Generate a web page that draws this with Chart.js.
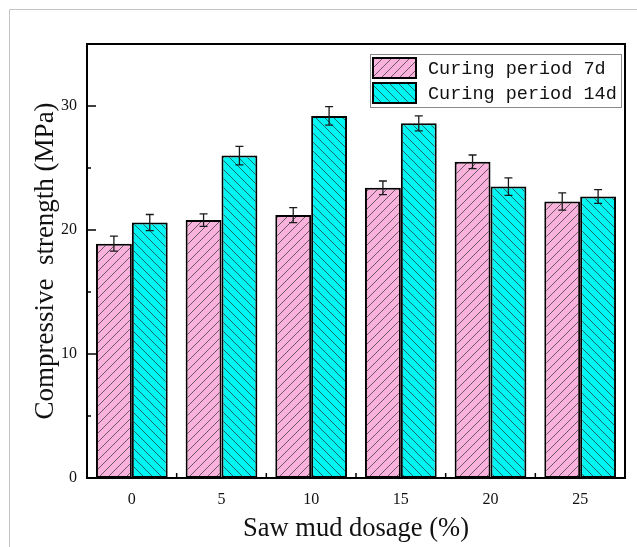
<!DOCTYPE html>
<html lang="en">
<head>
  <meta charset="utf-8" />
  <title>Compressive strength</title>
  <script src="https://cdn.jsdelivr.net/npm/chart.js@4.4.1/dist/chart.umd.min.js"></script>
  <style>
    html, body { margin: 0; padding: 0; background: #fff; }
    #wrap { width: 637px; height: 547px; }
  </style>
</head>
<body>
  <div id="wrap"><canvas id="myChart" width="637" height="547"></canvas></div>
  <script>
    // data
    const dosage = ['0', '5', '10', '15', '20', '25'];
    const strength7d = [18.9, 20.8, 21.2, 23.4, 25.5, 22.3];
    const err7d = [0.6, 0.5, 0.6, 0.55, 0.55, 0.7];
    const strength14d = [20.6, 26.0, 29.2, 28.6, 23.5, 22.7];
    const err14d = [0.65, 0.75, 0.75, 0.6, 0.7, 0.55];
    const yTicks = [0, 10, 20, 30];
    const yMinorTicks = [5, 15, 25];
    const seriesNames = ['Curing period 7d', 'Curing period 14d'];

    // hatch fills
    function hatch(color, forward) {
      const s = 9;
      const c = document.createElement('canvas');
      c.width = s; c.height = s;
      const g = c.getContext('2d');
      g.fillStyle = color;
      g.fillRect(0, 0, s, s);
      g.strokeStyle = 'rgba(40,40,40,0.75)';
      g.lineWidth = 0.9;
      g.beginPath();
      if (forward) {
        g.moveTo(-1, s + 1); g.lineTo(s + 1, -1);
        g.moveTo(-1, 1); g.lineTo(1, -1);
        g.moveTo(s - 1, s + 1); g.lineTo(s + 1, s - 1);
      } else {
        g.moveTo(-1, -1); g.lineTo(s + 1, s + 1);
        g.moveTo(s - 1, -1); g.lineTo(s + 1, 1);
        g.moveTo(-1, s - 1); g.lineTo(1, s + 1);
      }
      g.stroke();
      return g.createPattern(c, 'repeat');
    }
    const ctx = document.getElementById('myChart').getContext('2d');
    const pinkFill = hatch('#f9b2dc', true);
    const cyanFill = hatch('#00f6f2', false);
    const errors = [err7d, err14d];

    const framePlugin = {
      id: 'frame',
      beforeDraw(chart) {
        const c = chart.ctx;
        c.save();
        c.strokeStyle = '#c4c4c4';
        c.lineWidth = 1;
        c.beginPath();
        c.moveTo(9.5, 547); c.lineTo(9.5, 9.5); c.lineTo(637, 9.5);
        c.stroke();
        c.restore();
      },
      afterDatasetsDraw(chart) {
        const c = chart.ctx;
        const y = chart.scales.y;
        const x = chart.scales.x;
        const a = chart.chartArea;
        c.save();
        // error bars
        c.strokeStyle = '#1a1a1a';
        c.lineWidth = 1.3;
        chart.data.datasets.forEach((ds, di) => {
          chart.getDatasetMeta(di).data.forEach((bar, i) => {
            const v = ds.data[i], e = errors[di][i];
            const t = y.getPixelForValue(v + e), b = y.getPixelForValue(v - e);
            c.beginPath();
            c.moveTo(bar.x, t); c.lineTo(bar.x, b);
            c.moveTo(bar.x - 4, t); c.lineTo(bar.x + 4, t);
            c.moveTo(bar.x - 4, b); c.lineTo(bar.x + 4, b);
            c.stroke();
          });
        });
        // plot frame
        c.strokeStyle = '#000';
        c.lineWidth = 2;
        c.strokeRect(a.left, a.top, a.right - a.left, a.bottom - a.top);
        // inward ticks
        c.lineWidth = 1.5;
        c.beginPath();
        yTicks.forEach(v => {
          const p = y.getPixelForValue(v);
          c.moveTo(a.left, p); c.lineTo(a.left + 9, p);
        });
        yMinorTicks.forEach(v => {
          const p = y.getPixelForValue(v);
          c.moveTo(a.left, p); c.lineTo(a.left + 4, p);
        });
        for (let i = 1; i < dosage.length; i++) {
          const p = (x.getPixelForValue(i - 1) + x.getPixelForValue(i)) / 2;
          c.moveTo(p, a.bottom); c.lineTo(p, a.bottom - 5);
        }
        c.stroke();
        // legend
        const lx = 370, ly = 54;
        c.fillStyle = '#fff';
        c.fillRect(lx, ly, 251, 53);
        c.strokeStyle = '#8a8a8a';
        c.lineWidth = 1;
        c.strokeRect(lx + 0.5, ly + 0.5, 251, 53);
        c.font = '18.5px "Liberation Mono", monospace';
        c.textBaseline = 'middle';
        chart.data.datasets.forEach((ds, di) => {
          const top = ly + 4 + di * 25;
          c.fillStyle = ds.backgroundColor;
          c.fillRect(lx + 3, top, 43, 20);
          c.strokeStyle = '#000';
          c.lineWidth = 2;
          c.strokeRect(lx + 3, top, 43, 20);
          c.fillStyle = '#111';
          c.fillText(seriesNames[di], lx + 58, top + 11);
        });
        c.restore();
      }
    };

    const myChart = new Chart(ctx, {
      type: 'bar',
      data: {
        labels: dosage,
        datasets: [{
          label: seriesNames[0],
          data: strength7d,
          backgroundColor: pinkFill,
          borderColor: '#000',
          borderWidth: 2,
          borderSkipped: false
        }, {
          label: seriesNames[1],
          data: strength14d,
          backgroundColor: cyanFill,
          borderColor: '#000',
          borderWidth: 2,
          borderSkipped: false
        }]
      },
      options: {
        responsive: false,
        animation: false,
        barPercentage: 1.0,
        categoryPercentage: 0.8,
        layout: { padding: { top: 44, right: 12, left: 0, bottom: 0 } },
        plugins: {
          legend: { display: false },
          tooltip: { enabled: false }
        },
        scales: {
          x: {
            grid: { display: false },
            border: { display: true, color: '#000', width: 2 },
            ticks: { color: '#111', padding: 4, font: { family: '"Liberation Serif", serif', size: 16 } },
            title: {
              display: true,
              text: 'Saw mud dosage (%)',
              color: '#111',
              padding: { top: 0, bottom: 2 },
              font: { family: '"Liberation Serif", serif', size: 26.5 }
            },
            afterFit(scale) { scale.height = 69; }
          },
          y: {
            min: 0,
            max: 35,
            grid: { display: false },
            border: { display: true, color: '#000', width: 2 },
            afterBuildTicks(scale) { scale.ticks = yTicks.map(v => ({ value: v })); },
            ticks: { color: '#111', padding: 2, font: { family: '"Liberation Serif", serif', size: 16 } },
            title: {
              display: true,
              text: 'Compressive  strength (MPa)',
              color: '#111',
              padding: { top: 30, bottom: 0 },
              font: { family: '"Liberation Serif", serif', size: 27 }
            },
            afterFit(scale) { scale.width = 87; }
          }
        }
      },
      plugins: [framePlugin]
    });
  </script>
</body>
</html>
